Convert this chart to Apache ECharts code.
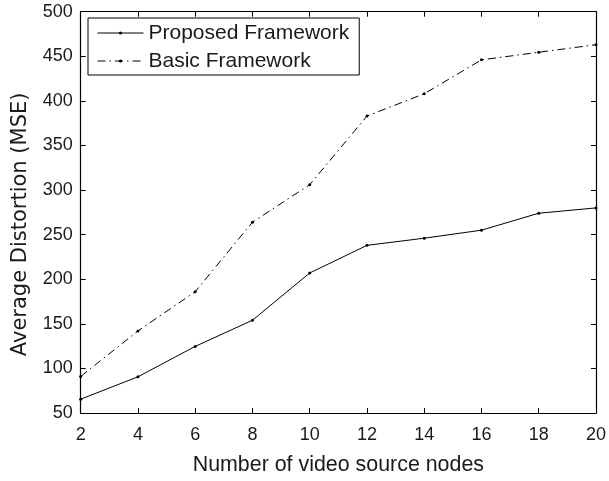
<!DOCTYPE html>
<html>
<head>
<meta charset="utf-8">
<script src="https://cdn.jsdelivr.net/npm/echarts@6/dist/echarts.min.js"></script>
<style>
  html, body { margin: 0; padding: 0; background: #fff; }
  #chart { width: 609px; height: 481px; }
</style>
</head>
<body>
<div id="chart"></div>
<script>
// Number of video source nodes (x) and the average distortion of each framework
const nodeCounts = [2, 4, 6, 8, 10, 12, 14, 16, 18, 20];
const proposedMSE = [65.5, 90.6, 124.7, 154, 207, 238, 246, 255, 274, 280];
const basicMSE = [91, 142, 186, 264, 306, 383, 408, 446, 454.5, 463];
const seriesNames = ['Proposed Framework', 'Basic Framework'];
const xTitle = 'Number of video source nodes';
const yTitle = 'Average Distortion (MSE)';

const toPairs = (xs, ys) => xs.map((x, i) => [x, ys[i]]);

const FONT = '"Liberation Sans", Arial, Helvetica, sans-serif';
const WIDE_FONT = '"DejaVu Sans", "Liberation Sans", sans-serif';
const INK = '#1a1a1a';

const tickStyle = { show: true, inside: true, length: 5, lineStyle: { color: '#000', width: 1 } };
const lineStyle = { show: true, onZero: false, lineStyle: { color: '#000', width: 1.2 } };

const chart = echarts.init(document.getElementById('chart'), null, { renderer: 'canvas' });

chart.setOption({
  animation: false,
  backgroundColor: '#fff',
  grid: { left: 80.7, right: 8.7, top: 11.7, bottom: 63.7, containLabel: false },
  legend: {
    orient: 'vertical',
    left: 88,
    top: 18,
    padding: [4, 10, 3, 9],
    itemWidth: 46,
    itemHeight: 4,
    itemGap: 6,
    borderColor: '#000',
    borderWidth: 1,
    backgroundColor: '#fff',
    lineStyle: { width: 1 },
    textStyle: { fontFamily: FONT, fontSize: 21, color: INK, lineHeight: 22 },
    data: seriesNames
  },
  xAxis: [
    {
      type: 'value', min: 2, max: 20, interval: 2,
      name: xTitle, nameLocation: 'middle', nameGap: 42,
      nameTextStyle: { fontFamily: FONT, fontSize: 21.4, color: INK },
      axisLine: lineStyle, axisTick: tickStyle,
      axisLabel: { fontFamily: FONT, fontSize: 18, color: INK, margin: 13 },
      splitLine: { show: false }
    },
    {
      type: 'value', position: 'top', min: 2, max: 20, interval: 2,
      axisLine: lineStyle, axisTick: tickStyle,
      axisLabel: { show: false }, splitLine: { show: false }
    }
  ],
  yAxis: [
    {
      type: 'value', min: 50, max: 500, interval: 50,
      name: yTitle, nameLocation: 'middle', nameGap: 50,
      nameTextStyle: { fontFamily: WIDE_FONT, fontSize: 21, color: INK, padding: [0, 24, 0, 0] },
      axisLine: lineStyle, axisTick: tickStyle,
      axisLabel: { fontFamily: FONT, fontSize: 18, color: INK, margin: 8 },
      splitLine: { show: false }
    },
    {
      type: 'value', position: 'right', min: 50, max: 500, interval: 50,
      axisLine: lineStyle, axisTick: tickStyle,
      axisLabel: { show: false }, splitLine: { show: false }
    }
  ],
  series: [
    {
      name: seriesNames[0], type: 'line',
      xAxisIndex: 0, yAxisIndex: 0,
      data: toPairs(nodeCounts, proposedMSE),
      symbol: 'circle', symbolSize: 3, showAllSymbol: true,
      itemStyle: { color: '#000' },
      lineStyle: { color: '#000', width: 1, type: 'solid' }
    },
    {
      name: seriesNames[1], type: 'line',
      xAxisIndex: 0, yAxisIndex: 0,
      data: toPairs(nodeCounts, basicMSE),
      symbol: 'circle', symbolSize: 3, showAllSymbol: true,
      itemStyle: { color: '#000' },
      lineStyle: { color: '#000', width: 1, type: [8, 4, 1.5, 4] }
    }
  ]
});
</script>
</body>
</html>
